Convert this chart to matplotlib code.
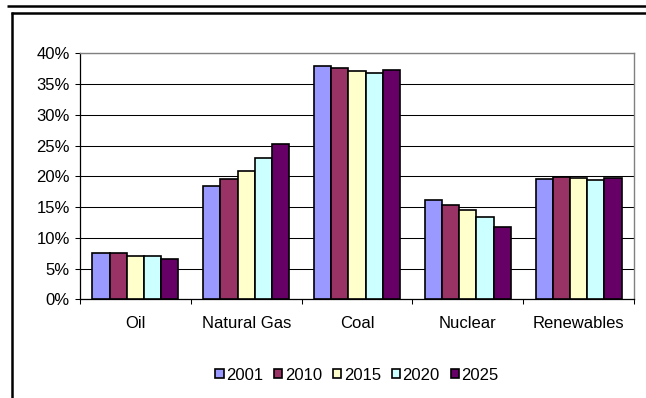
import matplotlib
matplotlib.use("Agg")
import matplotlib.pyplot as plt
import numpy as np
from matplotlib.lines import Line2D
from matplotlib.ticker import FixedLocator, PercentFormatter

# Share of generation by fuel source, per year
categories = ["Oil", "Natural Gas", "Coal", "Nuclear", "Renewables"]
years = ["2001", "2010", "2015", "2020", "2025"]
share_2001 = [7.6, 18.4, 37.9, 16.2, 19.5]
share_2010 = [7.5, 19.5, 37.6, 15.3, 19.9]
share_2015 = [7.1, 20.9, 37.1, 14.6, 19.8]
share_2020 = [7.05, 22.9, 36.8, 13.4, 19.4]
share_2025 = [6.55, 25.2, 37.3, 11.8, 19.8]
series = [share_2001, share_2010, share_2015, share_2020, share_2025]
colors = ["#9999FF", "#993366", "#FFFFCC", "#CCFFFF", "#660066"]

plt.rcParams["font.family"] = ["Liberation Sans", "DejaVu Sans"]
W, H = 646, 398
fig = plt.figure(figsize=(W / 100, H / 100), dpi=100)
fig.patch.set_facecolor("white")

ax = fig.add_axes([80 / W, 1 - 299.3 / H, (634 - 80) / W, (299.3 - 53.3) / H])

x = np.arange(len(categories))
bw = 0.155
for i, (vals, col, yr) in enumerate(zip(series, colors, years)):
    ax.bar(x + (i - 2) * bw, vals, width=bw, color=col, edgecolor="black",
           linewidth=1.2, label=yr, zorder=3)

ax.set_xlim(-0.5, len(categories) - 0.5)
ax.set_ylim(0, 40)

# y axis: percent ticks and horizontal gridlines
ax.yaxis.set_major_locator(FixedLocator(np.arange(0, 41, 5)))
ax.yaxis.set_major_formatter(PercentFormatter(decimals=0))
ax.yaxis.grid(True, color="black", linewidth=0.75, zorder=0)
ax.tick_params(axis="y", direction="out", length=3.6, width=0.75,
               pad=3.6, labelsize=12, color="black")

# x axis: tick marks between categories, labels at category centres
ax.xaxis.set_major_locator(FixedLocator(np.arange(-0.5, len(categories), 1.0)))
ax.xaxis.set_major_formatter(plt.NullFormatter())
ax.xaxis.set_minor_locator(FixedLocator(x))
ax.set_xticklabels(categories, minor=True)
ax.tick_params(axis="x", which="major", direction="out", length=3.6,
               width=0.75, color="black")
ax.tick_params(axis="x", which="minor", length=0, pad=12, labelsize=12)

for side in ("top", "right"):
    ax.spines[side].set_color("#808080")
    ax.spines[side].set_linewidth(1.0)
for side in ("left", "bottom"):
    ax.spines[side].set_color("black")
    ax.spines[side].set_linewidth(0.9)
ax.set_axisbelow(True)

fig.legend(loc="center", bbox_to_anchor=(357 / W, 1 - 375 / H), ncol=5,
           frameon=False, fontsize=12, handlelength=0.5, handleheight=0.5,
           handletextpad=0.15, columnspacing=0.65, borderpad=0)

# frame lines around the chart
def hline(y, x0, x1):
    fig.add_artist(Line2D([x0 / W, x1 / W], [1 - y / H, 1 - y / H],
                          transform=fig.transFigure, color="black",
                          linewidth=1.8, solid_capstyle="butt"))

def vline(xp, y0, y1):
    fig.add_artist(Line2D([xp / W, xp / W], [1 - y0 / H, 1 - y1 / H],
                          transform=fig.transFigure, color="black",
                          linewidth=1.8, solid_capstyle="butt"))

hline(5.8, 7, W)
hline(12.8, 11.2, W)
vline(12, 12, H)

fig.savefig("out.png", dpi=100, facecolor="white")
